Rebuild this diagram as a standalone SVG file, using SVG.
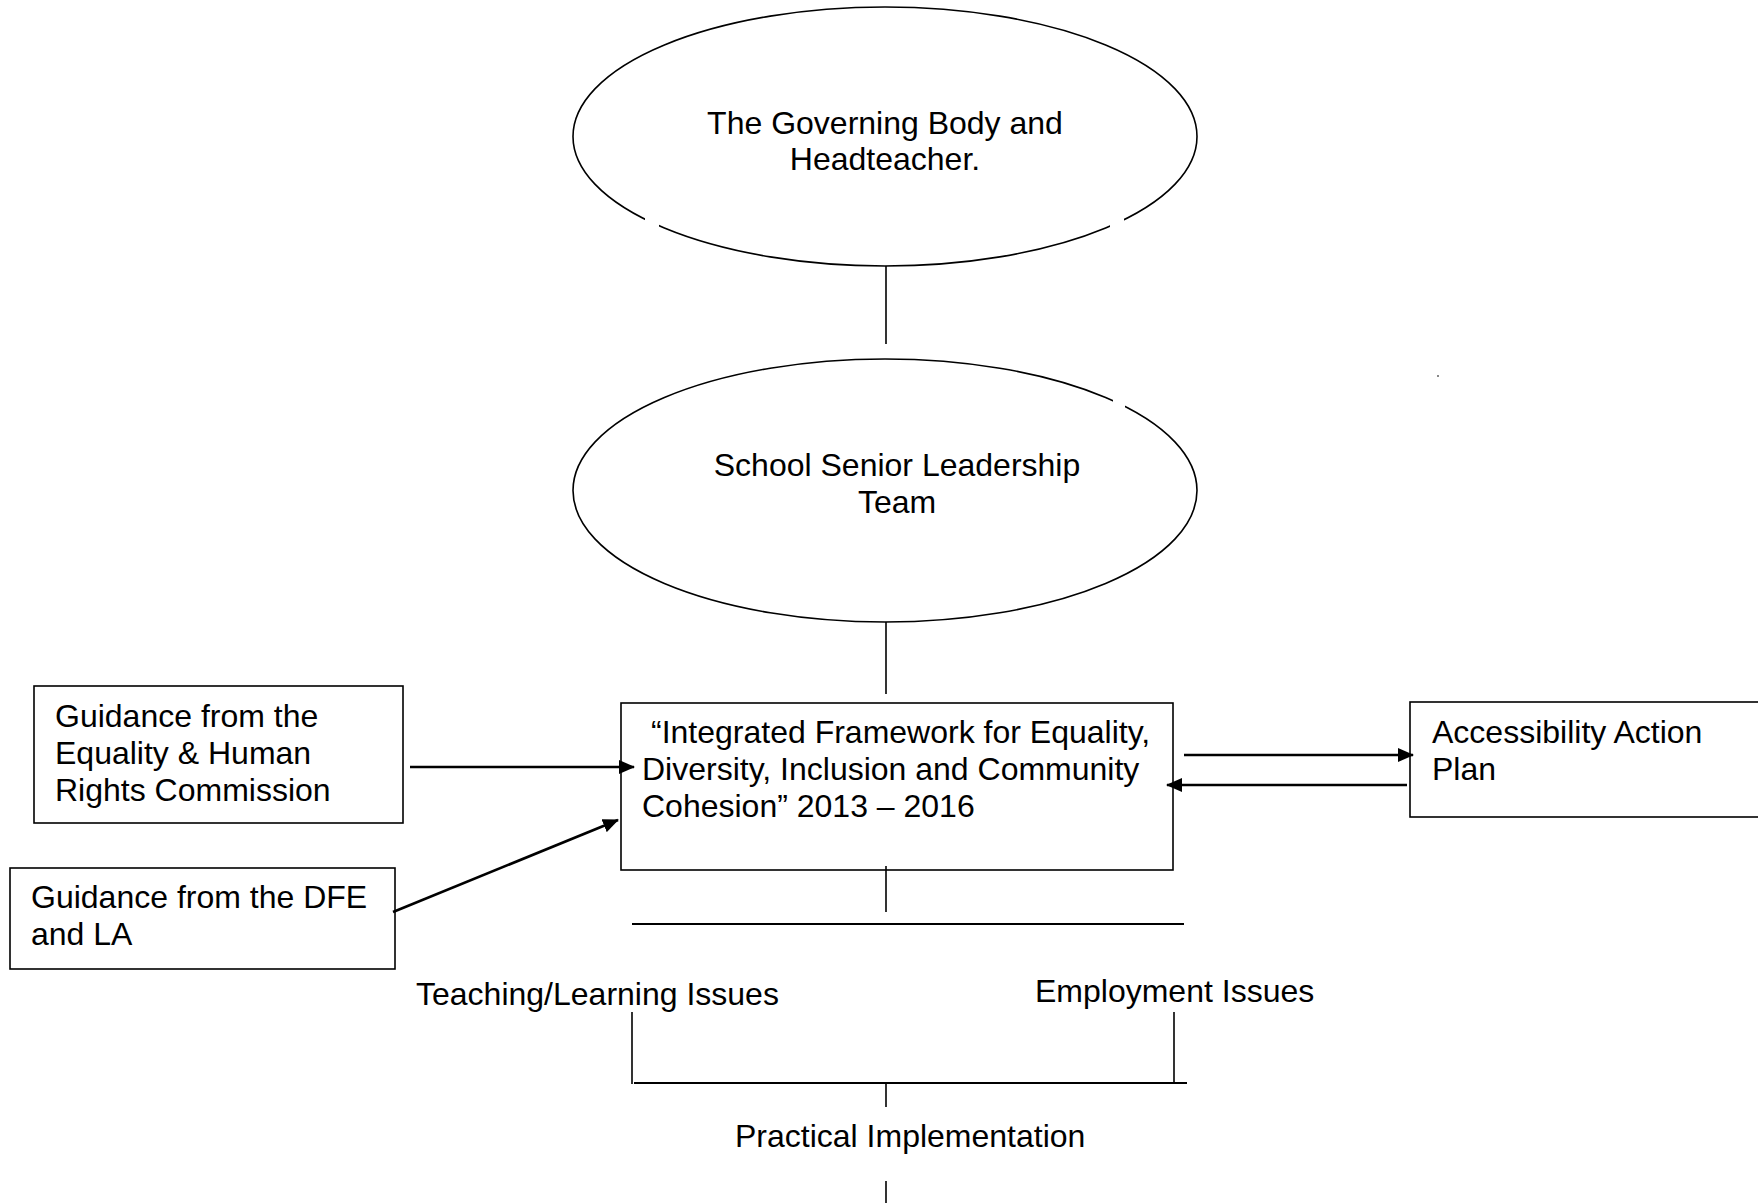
<svg xmlns="http://www.w3.org/2000/svg" width="1758" height="1203" viewBox="0 0 1758 1203">
<style>
text{font-family:"Liberation Sans",Arial,sans-serif;font-size:32px;fill:#000}
.shape{fill:#fff;stroke:#000;stroke-width:1.6}
.line{stroke:#000;stroke-width:1.6;fill:none}
.hline{stroke:#000;stroke-width:2.2;fill:none}
.arrow{stroke:#000;stroke-width:2.6;fill:none;marker-end:url(#ah)}
.mask{fill:#fff;stroke:none}
.mid{text-anchor:middle}
</style>
<defs>
<marker id="ah" markerUnits="userSpaceOnUse" markerWidth="16" markerHeight="14" refX="15" refY="7" orient="auto">
<path d="M0,0 L16,7 L0,14 Z" fill="#000"/>
</marker>
</defs>
<rect width="1758" height="1203" fill="#fff"/>

<g id="governing-body">
<ellipse class="shape" cx="885" cy="136.5" rx="312" ry="129.5"/>
<rect class="mask" x="645" y="210" width="14" height="22"/>
<rect class="mask" x="1110" y="210" width="14" height="22"/>
<text class="mid" x="885" y="134">The Governing Body and</text>
<text class="mid" x="885" y="170">Headteacher.</text>
</g>

<g id="senior-leadership">
<ellipse class="shape" cx="885" cy="490.5" rx="312" ry="131.5"/>
<rect class="mask" x="1113" y="394" width="12" height="16"/>
<text class="mid" x="897" y="476">School Senior Leadership</text>
<text class="mid" x="897" y="513">Team</text>
</g>

<g id="framework">
<rect class="shape" x="621" y="703" width="552" height="167"/>
<text x="651" y="743">“Integrated Framework for Equality,</text>
<text x="642" y="780">Diversity, Inclusion and Community</text>
<text x="642" y="817">Cohesion” 2013 – 2016</text>
</g>

<g id="ehrc-guidance">
<rect class="shape" x="34" y="686" width="369" height="137"/>
<text x="55" y="727">Guidance from the</text>
<text x="55" y="764">Equality &amp; Human</text>
<text x="55" y="801">Rights Commission</text>
</g>

<g id="dfe-guidance">
<rect class="shape" x="10" y="868" width="385" height="101"/>
<text x="31" y="908">Guidance from the DFE</text>
<text x="31" y="945">and LA</text>
</g>

<g id="accessibility">
<rect class="shape" x="1410" y="702" width="360" height="115"/>
<text x="1432" y="743">Accessibility Action</text>
<text x="1432" y="780">Plan</text>
</g>

<g id="teaching">
<text x="416" y="1005">Teaching/Learning Issues</text>
</g>
<g id="employment">
<text x="1035" y="1002">Employment Issues</text>
</g>
<g id="practical">
<text x="735" y="1147">Practical Implementation</text>
</g>

<g id="connectors">
<line class="line" x1="886" y1="266" x2="886" y2="344"/>
<line class="line" x1="886" y1="622" x2="886" y2="694"/>
<line class="arrow" x1="410" y1="767" x2="634" y2="767"/>
<line class="arrow" x1="393" y1="912" x2="618" y2="820"/>
<line class="arrow" x1="1184" y1="755" x2="1413" y2="755"/>
<line class="arrow" x1="1407" y1="785" x2="1167" y2="785"/>
<line class="line" x1="886" y1="866" x2="886" y2="912"/>
<line class="hline" x1="632" y1="924" x2="1184" y2="924"/>
<line class="line" x1="632" y1="1012" x2="632" y2="1084"/>
<line class="line" x1="1174" y1="1012" x2="1174" y2="1084"/>
<line class="hline" x1="634" y1="1083" x2="1187" y2="1083"/>
<line class="line" x1="886" y1="1084" x2="886" y2="1107"/>
<line class="line" x1="886" y1="1181" x2="886" y2="1203"/>
</g>
<rect x="1437" y="375" width="2" height="2" fill="#888"/>
</svg>
